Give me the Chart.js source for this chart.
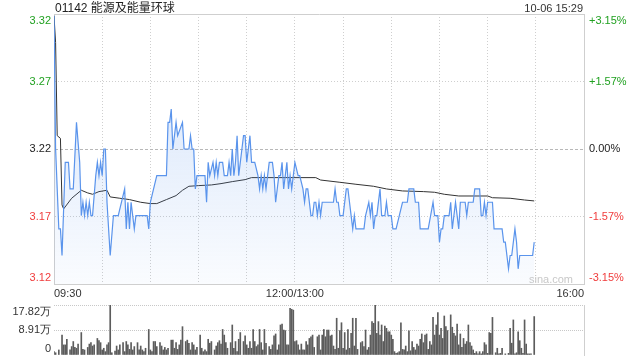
<!DOCTYPE html>
<html>
<head>
<meta charset="utf-8">
<script src="https://cdn.jsdelivr.net/npm/chart.js@4.4.0/dist/chart.umd.min.js"></script>
<style>
  html, body { margin: 0; padding: 0; background: #fff; }
  #wrap { position: relative; width: 640px; height: 360px; overflow: hidden;
          font-family: "Liberation Sans", Arial, "Noto Sans CJK SC", sans-serif; }
  #title { position: absolute; left: 55px; top: 1px; font-size: 12px; line-height: 15px; color: #222;
           font-family: "Liberation Sans", Arial, "Noto Sans CJK SC", sans-serif; }
  #stamp { position: absolute; right: 57px; top: 1px; font-size: 11px; line-height: 14px; color: #333; }
  #mark { position: absolute; right: 67px; top: 273px; font-size: 11px; line-height: 12px; color: #c8c8c8; }
  #priceChart { position: absolute; left: 0; top: 0; }
  #volChart { position: absolute; left: 0; top: 300px; }
</style>
</head>
<body>
<div id="wrap">
  <canvas id="priceChart" width="640" height="300"></canvas>
  <canvas id="volChart" width="640" height="60"></canvas>
  <div id="title">01142 能源及能量环球</div>
  <div id="stamp">10-06 15:29</div>
  <div id="mark">sina.com</div>
</div>
<script>
// minutes since 09:30 (lunch break removed), 330 = 16:00
const priceMinutes = [0,1,3,4,5,7,9,10,12,14,16,17,18,19,20,21,22,23,24,26,27,28,29,30,31,32,33,35,37,40,
  44,45,46,47,48,49,50,51,58,59,60,62,64,70,71,72,73,74,76,77,80,81,84,85,86,87,88,89,94,95,
  96,97,99,100,101,102,103,105,106,108,109,110,111,112,113,114,115,117,118,119,120,122,123,125,127,128,129,130,131,132,
  134,136,137,138,140,141,142,143,144,145,146,147,148,149,150,152,153,155,156,157,158,160,161,162,163,164,165,166,167,174,
  175,176,177,178,180,182,183,184,185,186,187,188,193,194,196,197,198,199,200,201,203,204,206,207,208,210,211,213,215,217,
  220,221,224,225,227,228,233,236,237,239,240,241,242,243,246,247,248,250,252,253,256,257,258,261,262,265,266,267,268,269,
  270,273,274,279,280,281,283,284,285,287,288,289,290,298,299];
const priceValues = [3.32,3.22,3.16,3.16,3.14,3.21,3.21,3.19,3.19,3.24,3.21,3.17,3.18,3.17,3.18,3.17,3.18,3.17,3.17,3.20,3.21,3.20,3.21,3.20,3.22,3.22,3.18,3.14,3.17,3.17,
  3.19,3.16,3.18,3.16,3.18,3.17,3.16,3.17,3.17,3.16,3.18,3.19,3.20,3.20,3.24,3.24,3.25,3.22,3.24,3.23,3.24,3.22,3.22,3.23,3.22,3.22,3.19,3.20,3.20,3.18,
  3.21,3.20,3.21,3.20,3.21,3.20,3.21,3.21,3.20,3.20,3.21,3.20,3.22,3.20,3.21,3.23,3.20,3.22,3.23,3.23,3.21,3.23,3.21,3.21,3.20,3.19,3.20,3.19,3.20,3.19,
  3.21,3.21,3.20,3.18,3.20,3.20,3.21,3.19,3.20,3.21,3.19,3.20,3.19,3.20,3.21,3.20,3.20,3.19,3.18,3.19,3.19,3.17,3.17,3.18,3.18,3.17,3.18,3.17,3.18,3.18,
  3.19,3.18,3.18,3.17,3.17,3.19,3.19,3.18,3.17,3.16,3.17,3.16,3.16,3.17,3.18,3.17,3.18,3.16,3.17,3.17,3.19,3.17,3.17,3.18,3.17,3.17,3.16,3.16,3.17,3.18,
  3.18,3.19,3.19,3.18,3.18,3.16,3.16,3.18,3.17,3.17,3.15,3.16,3.16,3.17,3.17,3.18,3.16,3.18,3.16,3.18,3.18,3.17,3.18,3.18,3.19,3.19,3.17,3.17,3.18,3.17,
  3.18,3.18,3.16,3.16,3.15,3.15,3.13,3.14,3.14,3.16,3.15,3.13,3.14,3.14,3.15];

const avgMinutes = [0,1,2,4,5,6,11,17,21,24,28,33,35,41,47,54,60,64,70,76,80,84,90,98,104,111,119,123,163,166,
  178,188,199,207,217,230,237,243,252,270,273,284,293,299];
const avgValues = [3.32,3.30,3.23,3.228,3.178,3.175,3.183,3.189,3.187,3.186,3.188,3.189,3.184,3.183,3.182,3.180,3.179,3.179,3.182,3.185,
  3.189,3.192,3.1925,3.193,3.194,3.1955,3.197,3.1985,3.1985,3.1967,3.195,3.1935,3.192,3.190,3.1885,3.188,3.1875,3.186,3.1847,3.1847,
  3.1834,3.183,3.1817,3.181];

// volume in 万股
const volMinutes = [0,1,3,5,6,7,8,10,11,12,13,14,15,17,18,19,21,22,23,24,25,27,28,29,30,31,32,33,34,35,
  36,38,39,40,41,43,44,45,46,47,48,49,50,52,53,54,55,56,57,59,60,61,62,63,64,66,67,68,69,70,
  71,73,74,75,76,77,78,79,80,82,83,84,85,86,87,88,89,91,92,93,94,95,96,97,98,100,101,102,103,104,
  105,106,107,108,110,111,112,113,114,115,116,118,119,120,121,122,123,124,125,126,127,128,129,130,131,132,134,135,136,137,
  138,139,140,141,142,143,144,145,146,147,148,149,150,151,152,153,154,155,156,157,158,159,160,161,162,164,165,166,167,168,
  169,170,171,172,173,174,175,176,177,178,179,180,181,182,183,184,185,186,187,188,189,191,192,193,194,195,196,197,198,199,
  200,201,202,203,204,205,206,207,208,209,210,211,212,213,214,215,216,217,218,219,220,221,222,223,224,225,226,227,228,229,
  230,231,232,233,234,235,236,237,238,239,240,241,242,243,244,245,247,248,249,250,251,252,253,254,255,256,257,258,259,260,
  261,262,263,264,265,266,267,268,269,270,271,272,273,275,276,277,278,279,281,283,284,285,286,287,288,289,290,291,292,293,
  294,295,296,297,299];
const volValues = [1.2,0.8,1.8,7.1,3.6,3.6,5.6,1.8,3.0,4.8,2.7,2.4,3.9,8.0,2.0,1.8,2.7,3.9,4.4,3.2,3.6,5.9,5.1,4.4,1.8,2.4,1.2,3.6,4.4,17.82,
  0.8,1.4,3.2,1.8,3.6,4.4,1.2,4.8,3.6,2.0,4.4,1.8,3.0,4.4,1.8,3.2,1.8,1.2,2.4,9.1,1.8,1.2,4.8,4.8,3.0,4.4,3.2,1.8,2.7,1.8,
  2.4,5.3,5.3,2.4,4.4,2.0,3.6,5.3,10.1,4.8,5.3,4.2,1.8,4.4,3.6,1.8,2.7,7.1,2.4,1.2,1.8,1.2,5.6,4.2,4.8,1.8,3.2,4.4,5.1,3.9,
  9.1,7.1,4.4,2.4,4.4,10.7,2.4,4.8,1.2,5.6,8.0,4.8,6.8,3.6,2.4,4.8,2.4,9.1,4.8,3.0,3.6,9.1,4.4,1.8,9.1,4.2,3.0,2.0,3.6,6.8,
  7.5,1.8,3.6,10.7,11.0,8.9,8.7,3.6,3.6,16.6,16.3,16.0,4.8,5.1,3.6,1.8,3.9,1.8,1.8,4.8,3.6,5.9,6.5,7.1,2.7,6.5,7.1,1.8,7.1,9.1,
  6.5,8.9,8.9,6.8,7.1,3.2,2.0,13.1,2.4,8.7,11.5,2.4,8.0,1.8,9.1,2.4,7.7,13.1,3.2,13.1,2.0,4.4,4.8,3.0,8.9,1.8,2.7,7.1,11.9,11.3,
  17.82,7.7,11.9,7.1,10.7,4.8,10.3,9.5,8.3,8.3,7.1,5.6,1.2,0.6,0.8,1.2,11.5,2.0,1.8,3.2,1.2,8.6,1.5,4.8,2.7,1.8,3.9,3.2,5.6,7.5,
  4.4,7.1,7.5,2.0,4.8,3.6,13.4,7.1,10.7,15.1,7.1,9.5,5.9,13.9,10.1,8.7,14.3,9.9,7.7,6.8,11.0,3.6,7.5,2.7,5.9,3.9,4.8,10.7,4.4,3.2,
  1.8,0.6,1.2,0.4,1.2,0.4,1.2,4.4,3.6,0.6,8.0,7.7,13.4,0.8,2.4,0.4,0.6,2.4,0.4,0.6,9.5,4.2,12.5,0.4,0.8,8.3,5.1,2.4,0.6,12.5,
  3.9,0.4,0.4,0.4,13.7];

const priceMin = 3.1186, priceMax = 3.3214;
const priceTickLabels = ['3.12', '3.17', '3.22', '3.27', '3.32'];
const pctTickLabels = ['-3.15%', '-1.57%', '0.00%', '+1.57%', '+3.15%'];
const volMax = 17.82;
const volTickLabels = ['0', '8.91万', '17.82万'];
const timeLabels = { 0: '09:30', 150: '12:00/13:00', 330: '16:00' };
const gridMinutes = [0, 30, 60, 90, 120, 150, 180, 210, 240, 270, 300, 330];

const RED = '#f03c3c', GREEN = '#21a121', DARK = '#222';
const tickColors = [RED, RED, DARK, GREEN, GREEN];

Chart.defaults.font.family = '"Liberation Sans", Arial, sans-serif';
Chart.defaults.font.size = 11;

// draws the side labels, pulling the first/last one inside the frame
const sideLabels = {
  id: 'sideLabels',
  afterDraw(chart, args, opts) {
    const ctx = chart.ctx;
    const area = chart.chartArea;
    const ys = chart.scales.y;
    ctx.save();
    ctx.font = '11px "Liberation Sans", Arial, sans-serif';
    ctx.textBaseline = 'middle';
    ys.ticks.forEach((t, i) => {
      let py = ys.getPixelForValue(t.value);
      py = Math.min(Math.max(py, area.top + 6.5), area.bottom - 6.5);
      ctx.fillStyle = opts.colors[i];
      ctx.textAlign = 'right';
      ctx.fillText(opts.left[i], area.left - 3, py);
      if (opts.right) {
        ctx.textAlign = 'left';
        ctx.fillText(opts.right[i], area.right + 5, py);
      }
    });
    ctx.restore();
  }
};

function blueFill(context) {
  const chart = context.chart;
  const area = chart.chartArea;
  if (!area) return 'rgba(91,149,236,0.1)';
  const g = chart.ctx.createLinearGradient(0, area.top, 0, area.bottom);
  g.addColorStop(0, 'rgba(91,149,236,0.28)');
  g.addColorStop(1, 'rgba(91,149,236,0.03)');
  return g;
}

const priceChart = new Chart(document.getElementById('priceChart'), {
  type: 'line',
  data: {
    datasets: [{
      data: priceMinutes.map((m, i) => ({ x: m, y: priceValues[i] })),
      borderColor: '#5a94ec',
      borderWidth: 1.2,
      pointRadius: 0,
      tension: 0,
      fill: 'start',
      backgroundColor: blueFill
    }, {
      data: avgMinutes.map((m, i) => ({ x: m, y: avgValues[i] })),
      borderColor: '#333',
      borderWidth: 1,
      pointRadius: 0,
      tension: 0,
      fill: false
    }]
  },
  options: {
    responsive: false,
    animation: false,
    devicePixelRatio: 1,
    layout: { padding: { top: 14, left: 0, right: 0, bottom: 0 } },
    plugins: {
      legend: { display: false },
      tooltip: { enabled: false },
      sideLabels: { left: priceTickLabels, right: pctTickLabels, colors: tickColors }
    },
    scales: {
      x: {
        type: 'linear', min: 0, max: 330,
        afterBuildTicks: ax => { ax.ticks = gridMinutes.map(v => ({ value: v })); },
        afterFit: ax => { ax.height = 16; },
        ticks: { autoSkip: false, maxRotation: 0, align: 'inner', padding: 3, color: '#333',
                 callback: v => timeLabels[v] || '' },
        grid: { color: '#cfcfcf', drawTicks: false },
        border: { display: false,
                  dash: ctx => (ctx.type === 'tick' && ctx.tick.value > 0 && ctx.tick.value < 330) ? [1, 2] : [] }
      },
      y: {
        position: 'left', min: priceMin, max: priceMax,
        afterBuildTicks: ax => { ax.ticks = [0, 1, 2, 3, 4].map(i => ({ value: priceMin + (priceMax - priceMin) * i / 4 })); },
        afterFit: ax => { ax.width = 54; },
        ticks: { display: false },
        grid: { color: ctx => ctx.index === 2 ? '#b8b8b8' : '#cfcfcf', drawTicks: false },
        border: { color: '#cfcfcf',
                  dash: ctx => ctx.type !== 'tick' ? [] : (ctx.index === 2 ? [3, 2] : (ctx.index === 0 || ctx.index === 4 ? [] : [1, 2])) }
      },
      y2: {
        position: 'right', min: priceMin, max: priceMax,
        afterFit: ax => { ax.width = 56; },
        ticks: { display: false },
        grid: { display: false },
        border: { color: '#cfcfcf' }
      }
    }
  },
  plugins: [sideLabels]
});

const volChart = new Chart(document.getElementById('volChart'), {
  type: 'bar',
  data: {
    datasets: [{
      data: volMinutes.map((m, i) => ({ x: m, y: volValues[i] })),
      backgroundColor: '#5c5c5c',
      barThickness: 1
    }]
  },
  options: {
    responsive: false,
    animation: false,
    devicePixelRatio: 1,
    layout: { padding: { top: 5, left: 0, right: 0, bottom: 5 } },
    plugins: {
      legend: { display: false },
      tooltip: { enabled: false },
      sideLabels: { left: volTickLabels, colors: ['#333', '#333', '#333'] }
    },
    scales: {
      x: { type: 'linear', min: 0, max: 330, offset: false, display: false, grid: { offset: false } },
      y: {
        position: 'left', min: 0, max: volMax,
        afterBuildTicks: ax => { ax.ticks = [0, 1, 2].map(i => ({ value: volMax * i / 2 })); },
        afterFit: ax => { ax.width = 54; },
        ticks: { display: false },
        grid: { color: ctx => ctx.index === 0 ? 'rgba(0,0,0,0)' : '#c8c8c8', drawTicks: false },
        border: { display: false, dash: ctx => ctx.type === 'tick' ? [1, 1] : [] }
      },
      y2: {
        position: 'right', min: 0, max: volMax,
        afterFit: ax => { ax.width = 56; },
        ticks: { display: false },
        grid: { display: false },
        border: { color: '#cfcfcf' }
      }
    }
  },
  plugins: [sideLabels]
});
</script>
</body>
</html>
